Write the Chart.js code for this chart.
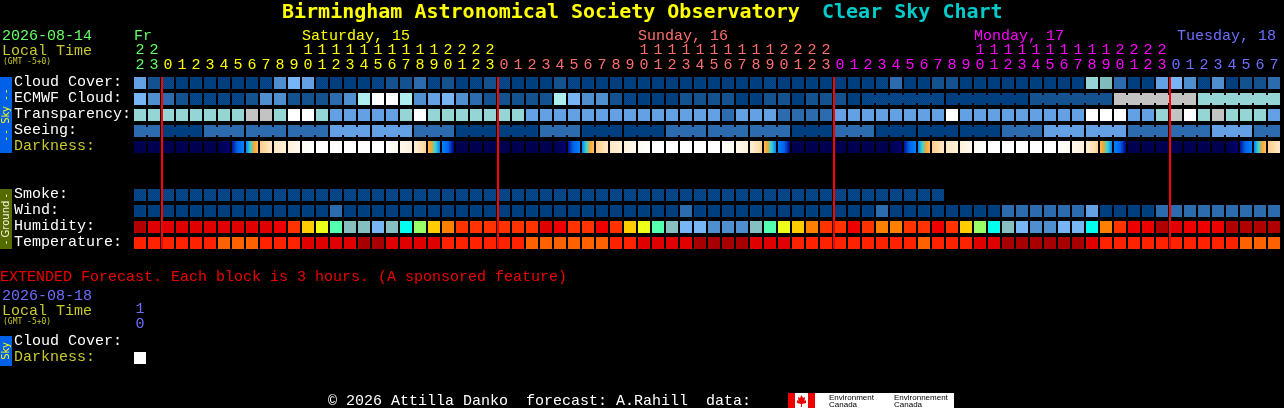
<!DOCTYPE html>
<html>
<head>
<meta charset="utf-8">
<title>Clear Sky Chart</title>
<script src="https://cdn.jsdelivr.net/npm/chart.js@4"></script>
<style>
  html, body { margin: 0; padding: 0; background: #000; overflow: hidden; }
  canvas { position: absolute; left: 0; }
  #mainChart { top: 0; }
  #extChart { top: 260px; }
</style>
</head>
<body>
<canvas id="mainChart" width="1284" height="408"></canvas>
<canvas id="extChart" width="160" height="124"></canvas>
<script>
// Hour of every column, the first is Friday 22:00
const hours = [22,23,
  0,1,2,3,4,5,6,7,8,9,10,11,12,13,14,15,16,17,18,19,20,21,22,23,
  0,1,2,3,4,5,6,7,8,9,10,11,12,13,14,15,16,17,18,19,20,21,22,23,
  0,1,2,3,4,5,6,7,8,9,10,11,12,13,14,15,16,17,18,19,20,21,22,23,
  0,1,2,3,4,5,6,7];

const rowLabels = ['Cloud Cover:', 'ECMWF Cloud:', 'Transparency:', 'Seeing:', 'Darkness:',
                   'Smoke:', 'Wind:', 'Humidity:', 'Temperature:'];

// Values are steps of the colour scales below
const cloudCover = [5,2,1,0,0,0,0,0,0,1, 4,6,5,1,0,0,0,1,2,2, 3,1,2,0,1,2,1,0,0,0,
  2,1,0,0,0,0,0,0,0,0, 0,0,0,0,0,1,0,0,0,0, 0,0,0,1,3,0,0,2,2,0, 0,0,0,0,0,0,0,0,8,11,
  3,0,0,5,6,4,1,4,0,2, 2,3];
const ecmwfCloud = [6,4,3,2,1,1,1,1,2,4, 4,2,2,2,3,4,7,9,9,7, 4,5,6,4,3,2,2,2,2,2,
  7,6,4,4,2,1,0,0,0,2, 2,2,2,0,0,2,2,0,2,2, 2,0,1,1,1,1,1,1,0,0, 0,0,0,0,2,2,2,2,2,2,
  10,10,10,10,10,10,8,8,8,8, 8,8];
const transparency = [8,8,8,8,8,8,8,8,10,10, 8,9,9,8,5,5,5,5,5,8, 9,8,8,8,8,8,8,8,5,5,
  5,5,5,5,5,5,5,5,5,5, 5,5,3,5,5,5,3,3,3,3, 5,5,5,5,5,5,5,5,9,5, 5,5,5,5,5,5,5,5,9,9,
  9,5,5,8,10,9,8,10,8,8, 8,5];
const seeing = [3,3,0,0,0,3,3,3,3,3, 3,3,3,3,5,5,5,5,5,5, 3,3,3,0,0,0,0,0,0,3,
  3,3,0,0,0,0,0,0,3,3, 3,3,3,3,3,3,3,0,0,0, 3,3,3,0,0,0,0,0,0,0, 0,0,3,3,3,5,5,5,5,5,
  5,3,3,3,3,3,3,5,5,5, 3,3];
const smoke = [1,1,1,1,1,1,1,1,1,1, 1,1,1,1,1,1,1,1,1,1, 1,1,1,1,1,1,1,1,1,1,
  1,1,1,1,1,1,1,1,1,1, 1,1,1,1,1,1,1,1,1,1, 1,1,1,1,1,1,1,1];
const wind = [0,0,0,0,0,0,0,0,0,0, 0,0,0,0,3,0,0,0,0,0, 0,0,0,0,0,0,0,0,0,0,
  0,0,0,0,0,0,0,0,0,3, 0,0,0,0,0,0,0,0,0,0, 0,0,0,3,0,0,0,0,0,0, 0,0,3,3,3,3,3,3,5,0,
  0,0,0,3,3,3,3,3,3,3, 3,3];
const humidity = [0,1,1,1,1,1,1,1,1,1, 2,3,5,6,8,10,10,11,10,9, 7,5,4,3,3,3,3,3,3,1,
  2,3,3,2,3,5,6,8,10,11, 11,12,12,12,10,8,6,5,4,3, 3,2,3,4,4,3,3,2,3,5, 7,9,10,11,12,12,11,11,9,4,
  3,2,2,0,1,2,2,2,0,0, 0,0];
const temperature = [2,2,2,2,2,2,3,3,3,2, 2,2,1,1,1,1,0,0,1,1, 1,1,2,2,2,2,2,2,3,3,
  3,3,3,3,2,2,1,1,1,1, 0,0,0,0,1,1,1,2,2,2, 2,2,2,2,2,2,3,2,2,2, 1,1,0,0,0,0,0,0,1,2,
  2,2,2,2,2,2,2,2,2,3, 3,3];

// Darkness goes on inside a block, so every block has a start and an end step
const darknessStart = [9,9,9,9,9,9,9,7.8,6,2.8, 1.8,1.2,.4,0,0,0,0,0,0,.6, 1.4,3.4,6,9,9,9,9,9,9,9,
  9,7.8,6,2.8,1.8,1.2,.4,0,0,0, 0,0,0,.6,1.4,3.4,6,9,9,9, 9,9,9,9,9,7.8,6,2.8,1.8,1.2,
  .4,0,0,0,0,0,0,.6,1.4,3.4, 6,9,9,9,9,9,9,9,9,7.8, 6,2.8];
const darknessEnd = [9,9,9,9,9,9,8.5,6,3.2,1.8, 1.2,.5,0,0,0,0,0,0,.5,1.2, 2.6,6,8,9,9,9,9,9,9,9,
  8.5,6,3.2,1.8,1.2,.5,0,0,0,0, 0,0,.5,1.2,2.6,6,8,9,9,9, 9,9,9,9,8.5,6,3.2,1.8,1.2,.5,
  0,0,0,0,0,0,.5,1.2,2.6,6, 8,9,9,9,9,9,9,9,8.5,6, 3.2,1.8];

// Blocks of the same forecast step hang together
const seeingRuns = [2,3,3,3,3,3,3,3,3,3,3,3,3,3,3,3,3,3,3,3,3,3,3,3,3,3,3,2];
const ecmwfRunStart = 52;
const ecmwfRuns = [6,6,6,6,6];

const dayNames = ['Fr', 'Saturday, 15', 'Sunday, 16', 'Monday, 17'];
const dayColumns = [0, 12, 36, 60];
const lastDayName = 'Tuesday, 18';

// Extended forecast
const extHours = [10];
const extRowLabels = ['Cloud Cover:', 'Darkness:'];
const extDarkness = [0];

const FONT = '"Liberation Mono", monospace';
const TITLE_FONT = '"DejaVu Sans Mono", monospace';
const GREEN = '#66ff66', YELLOW = '#ffff00', PINK = '#ff6e6e', MAGENTA = '#ff00ff', BLUE = '#6e6eff';
const OLIVE = '#c8c832';

function dither(a, b) {
  const c = document.createElement('canvas');
  c.width = c.height = 2;
  const g = c.getContext('2d');
  g.fillStyle = a; g.fillRect(0, 0, 2, 2);
  g.fillStyle = b; g.fillRect(0, 0, 1, 1); g.fillRect(1, 1, 1, 1);
  return g.createPattern(c, 'repeat');
}

const skyColours = ['#003f7f', dither('#003f7f', '#0b4a8c'), '#14528f', '#2c6cae', '#4f8fd0', '#63a0e4',
                    '#77b5f7', '#afeeee', '#96d5d5', '#ffffff', '#c3c3c3', '#80bcbc'];
const humidityColours = ['#b00000', '#e00000', '#ee0000', '#ff3300', '#ff8000', '#ffcc00', '#eeff1a',
                         '#99ff66', '#55ffb0', '#00ffee', '#85bfbf', '#77b5f5', '#4f8fd0'];
const temperatureColours = ['#a80000', '#e00000', '#ff2200', '#ff6000'];
const darknessRamp = [[255,255,255], [255,243,224], [255,228,190], [255,200,120], [255,165,40],
                      [60,210,210], [0,128,255], [0,100,230], [0,0,140], [0,0,80]];

function rampColour(v) {
  const i = Math.min(Math.floor(v), darknessRamp.length - 2), t = v - i;
  const c = darknessRamp[i].map((n, k) => Math.round(n + (darknessRamp[i + 1][k] - n) * t));
  return `rgb(${c[0]},${c[1]},${c[2]})`;
}

function darknessFill(ctx) {
  const chart = ctx.chart;
  if (ctx.dataIndex === undefined || !chart.chartArea) return '#000';
  const a = darknessStart[ctx.dataIndex], b = darknessEnd[ctx.dataIndex];
  if (a === b) return rampColour(a);
  const x = chart.scales.x.getPixelForValue(ctx.dataIndex);
  const g = chart.ctx.createLinearGradient(x - 6, 0, x + 6, 0);
  for (let s = 0; s <= 8; s++) g.addColorStop(s / 8, rampColour(a + (b - a) * s / 8));
  return g;
}

const BLOCK = 0.75;  // block height in rows
const mainRows = [0, 1, 2, 3, 4, 7, 8, 9, 10];

function rowDataset(values, row, colours) {
  return {
    data: values.map(() => [row, row + BLOCK]),
    backgroundColor: colours,
    barPercentage: 12 / 14,
    categoryPercentage: 1
  };
}

function colourList(values, palette) {
  return values.map(v => palette[v]);
}

function rowAxis(max, rows, labels, leftPad) {
  return {
    min: 0, max: max, reverse: true, position: 'left',
    grid: { display: false }, border: { display: false },
    afterFit: s => { s.width = 133 - leftPad; },
    afterBuildTicks: s => { s.ticks = rows.map(r => ({ value: r + 0.33 })); },
    ticks: {
      autoSkip: false, crossAlign: 'far', padding: 0,
      font: { family: FONT, size: 15 },
      callback: (v, i) => labels[i],
      color: ctx => labels[ctx.index] === 'Darkness:' ? OLIVE : '#ffffff'
    }
  };
}

function hourAxis(colour, height) {
  return {
    position: 'top', type: 'category', offset: true,
    grid: { display: false }, border: { display: false },
    afterFit: s => { s.height = height; },
    ticks: {
      autoSkip: false, maxRotation: 0, padding: -3,
      font: { family: FONT, size: 15, lineHeight: 14.5 / 15 },
      color: colour
    }
  };
}

function hourColour(ctx) {
  const i = ctx.index;
  if (i < 2) return GREEN;
  if (i < 26) return YELLOW;
  if (i < 50) return PINK;
  if (i < 74) return MAGENTA;
  return BLUE;
}

function put(c, text, x, y, colour, font) {
  c.fillStyle = colour;
  c.font = font || ('15px ' + FONT);
  c.fillText(text, x, y);
}

function sideStrip(c, top, bottom, fill, text, colour) {
  c.fillStyle = fill;
  c.fillRect(0, top, 12, bottom - top);
  c.save();
  c.translate(6, (top + bottom) / 2);
  c.rotate(-Math.PI / 2);
  c.textAlign = 'center';
  c.textBaseline = 'middle';
  c.fillStyle = colour;
  c.font = '10px "DejaVu Sans", sans-serif';
  c.fillText(text, 0, 0);
  c.restore();
}

const decorations = {
  id: 'decorations',
  beforeDatasetsDraw(chart) {
    const c = chart.ctx, x = chart.scales.x;
    c.save();
    c.textBaseline = 'alphabetic';
    put(c, 'Birmingham Astronomical Society Observatory', 282, 18, YELLOW, 'bold 20px ' + TITLE_FONT);
    put(c, 'Clear Sky Chart', 822, 18, '#00cccc', 'bold 20px ' + TITLE_FONT);

    put(c, '2026-08-14', 2, 40, GREEN);
    put(c, 'Local Time', 2, 55, OLIVE);
    put(c, '(GMT -5+0)', 3, 64, OLIVE, '8px ' + TITLE_FONT);

    const dayColours = [GREEN, YELLOW, PINK, MAGENTA];
    dayNames.forEach((name, i) => {
      put(c, name, x.getPixelForValue(dayColumns[i]) - 6, 40, dayColours[i]);
    });
    c.textAlign = 'right';
    put(c, lastDayName, 1276, 40, BLUE);
    c.textAlign = 'left';

    sideStrip(c, 77, 153, '#0060e8', '- -  Sky  - -', '#ffff00');
    sideStrip(c, 189, 249, '#556b00', '- Ground -', '#f4f4e0');

    put(c, 'EXTENDED Forecast. Each block is 3 hours. (A sponsored feature)', 0, 281, '#ee0000');
    put(c, '2026-08-18', 2, 300, BLUE);
    put(c, 'Local Time', 2, 315, OLIVE);
    put(c, '(GMT -5+0)', 3, 324, OLIVE, '8px ' + TITLE_FONT);
    sideStrip(c, 336, 366, '#0060e8', 'Sky', '#ffff00');

    put(c, '\u00a9 2026 Attilla Danko  forecast: A.Rahill  data:', 328, 405, '#ffffff');

    // Environment Canada logo
    c.fillStyle = '#ffffff'; c.fillRect(788, 393, 166, 15);
    c.fillStyle = '#ee0000'; c.fillRect(788, 393, 7, 15); c.fillRect(808, 393, 7, 15);
    c.beginPath();
    [[801.5,395],[803,398],[805,397],[804.5,401],[806,400],[806,403],[802,404],[802,407],[801,407],[801,404],
     [797,403],[797,400],[798.5,401],[798,397],[800,398]].forEach((p, i) => i ? c.lineTo(p[0], p[1]) : c.moveTo(p[0], p[1]));
    c.closePath(); c.fill();
    const small = '8px "Liberation Sans", sans-serif';
    put(c, 'Environment', 829, 400, '#000000', small);
    put(c, 'Canada', 829, 407, '#000000', small);
    put(c, 'Environnement', 894, 400, '#000000', small);
    put(c, 'Canada', 894, 407, '#000000', small);
    c.restore();
  },
  afterDatasetsDraw(chart) {
    const c = chart.ctx, x = chart.scales.x, y = chart.scales.y;
    c.save();

    // joints between blocks of one forecast step
    function joints(datasetIndex, row, start, runs, values) {
      const bars = chart.getDatasetMeta(datasetIndex).data;
      const h = y.getPixelForValue(row + BLOCK) - y.getPixelForValue(row);
      let i = start;
      runs.forEach(n => {
        for (let k = i; k < i + n - 1; k++) {
          c.fillStyle = skyColours[values[k]];
          c.fillRect(bars[k].x + 6, y.getPixelForValue(row) + 2, 2, h - 4);
        }
        i += n;
      });
    }
    joints(1, mainRows[1], ecmwfRunStart, ecmwfRuns, ecmwfCloud);
    joints(3, mainRows[3], 0, seeingRuns, seeing);

    // a red line at every midnight
    c.fillStyle = '#ff0000';
    const top = y.getPixelForValue(0), bottom = y.getPixelForValue(10 + BLOCK);
    hours.forEach((h, i) => {
      if (h === 0) c.fillRect(x.getPixelForValue(i) - 7, top, 2, bottom - top);
    });
    c.restore();
  }
};

new Chart(document.getElementById('mainChart'), {
  type: 'bar',
  data: {
    labels: hours.map(h => h < 10 ? ['', String(h)] : [String(Math.floor(h / 10)), String(h % 10)]),
    datasets: [
      rowDataset(cloudCover, mainRows[0], colourList(cloudCover, skyColours)),
      rowDataset(ecmwfCloud, mainRows[1], colourList(ecmwfCloud, skyColours)),
      rowDataset(transparency, mainRows[2], colourList(transparency, skyColours)),
      rowDataset(seeing, mainRows[3], colourList(seeing, skyColours)),
      rowDataset(darknessStart, mainRows[4], darknessFill),
      rowDataset(smoke, mainRows[5], colourList(smoke, skyColours)),
      rowDataset(wind, mainRows[6], colourList(wind, skyColours)),
      rowDataset(humidity, mainRows[7], colourList(humidity, humidityColours)),
      rowDataset(temperature, mainRows[8], colourList(temperature, temperatureColours))
    ]
  },
  options: {
    responsive: false,
    animation: false,
    events: [],
    layout: { padding: { left: 14, right: 3, top: 0, bottom: 155 } },
    datasets: { bar: { grouped: false } },
    plugins: { legend: { display: false }, tooltip: { enabled: false } },
    scales: {
      x: hourAxis(hourColour, 77),
      y: rowAxis(11, mainRows, rowLabels, 14)
    }
  },
  plugins: [decorations]
});

new Chart(document.getElementById('extChart'), {
  type: 'bar',
  data: {
    labels: extHours.map(h => [String(Math.floor(h / 10)), String(h % 10)]),
    datasets: [
      rowDataset(extDarkness, 1, colourList(extDarkness, ['#ffffff']))
    ]
  },
  options: {
    responsive: false,
    animation: false,
    events: [],
    layout: { padding: { left: 14, right: 13, top: 0, bottom: 16 } },
    datasets: { bar: { grouped: false } },
    plugins: { legend: { display: false }, tooltip: { enabled: false } },
    scales: {
      x: hourAxis(BLUE, 76),
      y: rowAxis(2, [0, 1], extRowLabels, 14)
    }
  }
});
</script>
</body>
</html>
